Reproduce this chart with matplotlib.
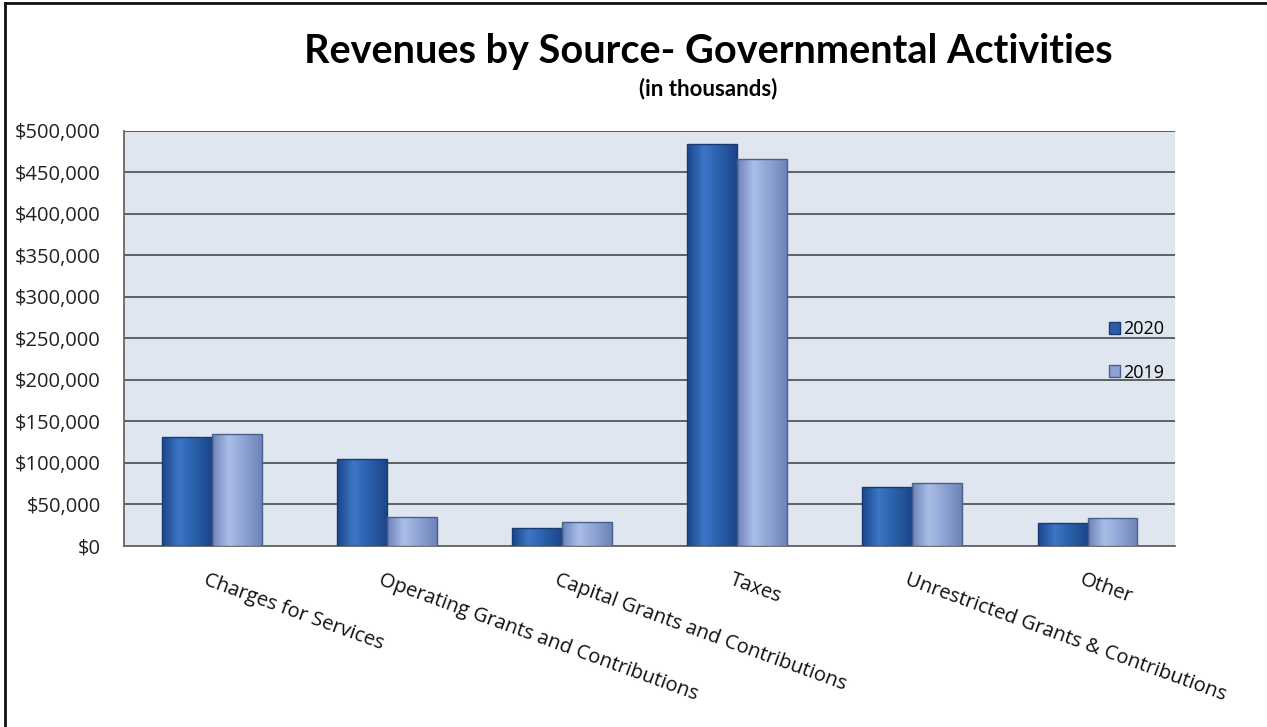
import matplotlib
matplotlib.use('Agg')
import matplotlib.pyplot as plt
import numpy as np
from matplotlib.lines import Line2D
from matplotlib.ticker import FuncFormatter, MultipleLocator

plt.rcParams['font.family'] = ['Open Sans', 'DejaVu Sans']

# revenue by source, in thousands of dollars
categories = ['Charges for Services', 'Operating Grants and Contributions',
              'Capital Grants and Contributions', 'Taxes',
              'Unrestricted Grants & Contributions', 'Other']
rev_2020 = [131000, 105000, 22000, 484000, 71000, 28000]
rev_2019 = [135000, 35000, 28500, 466000, 76000, 34000]
series_names = ['2020', '2019']

# colour ramps (edge -> centre) used to fake the bevelled bar look
ramp_2020 = ['#1b468a', '#3b76c6', '#2a5ea8']
ramp_2019 = ['#6d84b9', '#aabee6', '#8ca2d2']


def shade_bars(ax, bars, ramp):
    cmap = matplotlib.colors.LinearSegmentedColormap.from_list('b', [ramp[0], ramp[1], ramp[2], ramp[0]])
    grad = np.linspace(0, 1, 64).reshape(1, -1)
    for b in bars:
        x, y = b.get_x(), b.get_y()
        w, h = b.get_width(), b.get_height()
        im = ax.imshow(grad, cmap=cmap, aspect='auto', extent=[x, x + w, y, y + h],
                       zorder=3, interpolation='bicubic')
        im.set_clip_path(b)
        b.set_facecolor('none')


fig = plt.figure(figsize=(12.67, 7.27), dpi=100)
ax = fig.add_axes([0.098, 0.249, 0.8295, 0.571])
ax.set_facecolor('#dfe6f0')

x = np.arange(len(categories))
w = 0.285
b1 = ax.bar(x - w / 2, rev_2020, w, color=ramp_2020[2], edgecolor='#173b72', linewidth=1.0,
            zorder=3, label=series_names[0])
b2 = ax.bar(x + w / 2, rev_2019, w, color=ramp_2019[2], edgecolor='#4a5f8c', linewidth=1.0,
            zorder=3, label=series_names[1])
shade_bars(ax, b1, ramp_2020)
shade_bars(ax, b2, ramp_2019)
for b in list(b1) + list(b2):
    b.set_zorder(4)

ax.set_xlim(-0.5, len(categories) - 0.5)
ax.set_ylim(0, 500000)
ax.yaxis.set_major_locator(MultipleLocator(50000))
ax.yaxis.set_major_formatter(FuncFormatter(lambda v, p: '${:,.0f}'.format(v)))
ax.grid(axis='y', color='#555555', linewidth=1.3, zorder=1)
ax.set_axisbelow(True)
ax.tick_params(axis='y', length=0, labelsize=14.5, pad=17, labelcolor='#222222')
ax.tick_params(axis='x', length=0)
ax.set_xticks(x)
ax.set_xticklabels([])
for s in ['top', 'right']:
    ax.spines[s].set_visible(False)
for s in ['left', 'bottom']:
    ax.spines[s].set_color('#666666')
    ax.spines[s].set_linewidth(1.3)

for xi, name in zip(x, categories):
    ax.text(xi - 0.04, -0.08, name, transform=ax.get_xaxis_transform(), rotation=-20,
            rotation_mode='anchor', ha='left', va='center', fontsize=14.5, color='#111111')

leg = ax.legend(loc='center right', bbox_to_anchor=(1.0, 0.47), frameon=False, fontsize=13,
                handlelength=0.6, handleheight=0.6, handletextpad=0.2, labelspacing=1.4,
                borderaxespad=0.2)
leg.legend_handles[0].set_facecolor(ramp_2020[2])
leg.legend_handles[1].set_facecolor(ramp_2019[2])

fig.text(0.559, 0.929, 'Revenues by Source- Governmental Activities', ha='center', va='center',
         fontsize=28.5, fontweight='bold', family=['Lato', 'DejaVu Sans'])
fig.text(0.559, 0.878, '(in thousands)', ha='center', va='center', fontsize=16,
         fontweight='bold', family=['Lato', 'DejaVu Sans'])

# frame lines along the left and top of the figure
fig.add_artist(Line2D([0.004, 0.004], [0, 0.996], transform=fig.transFigure, color='#111111', linewidth=2))
fig.add_artist(Line2D([0.004, 1.0], [0.996, 0.996], transform=fig.transFigure, color='#111111', linewidth=2))

fig.savefig('out.png', dpi=100, facecolor='white')
